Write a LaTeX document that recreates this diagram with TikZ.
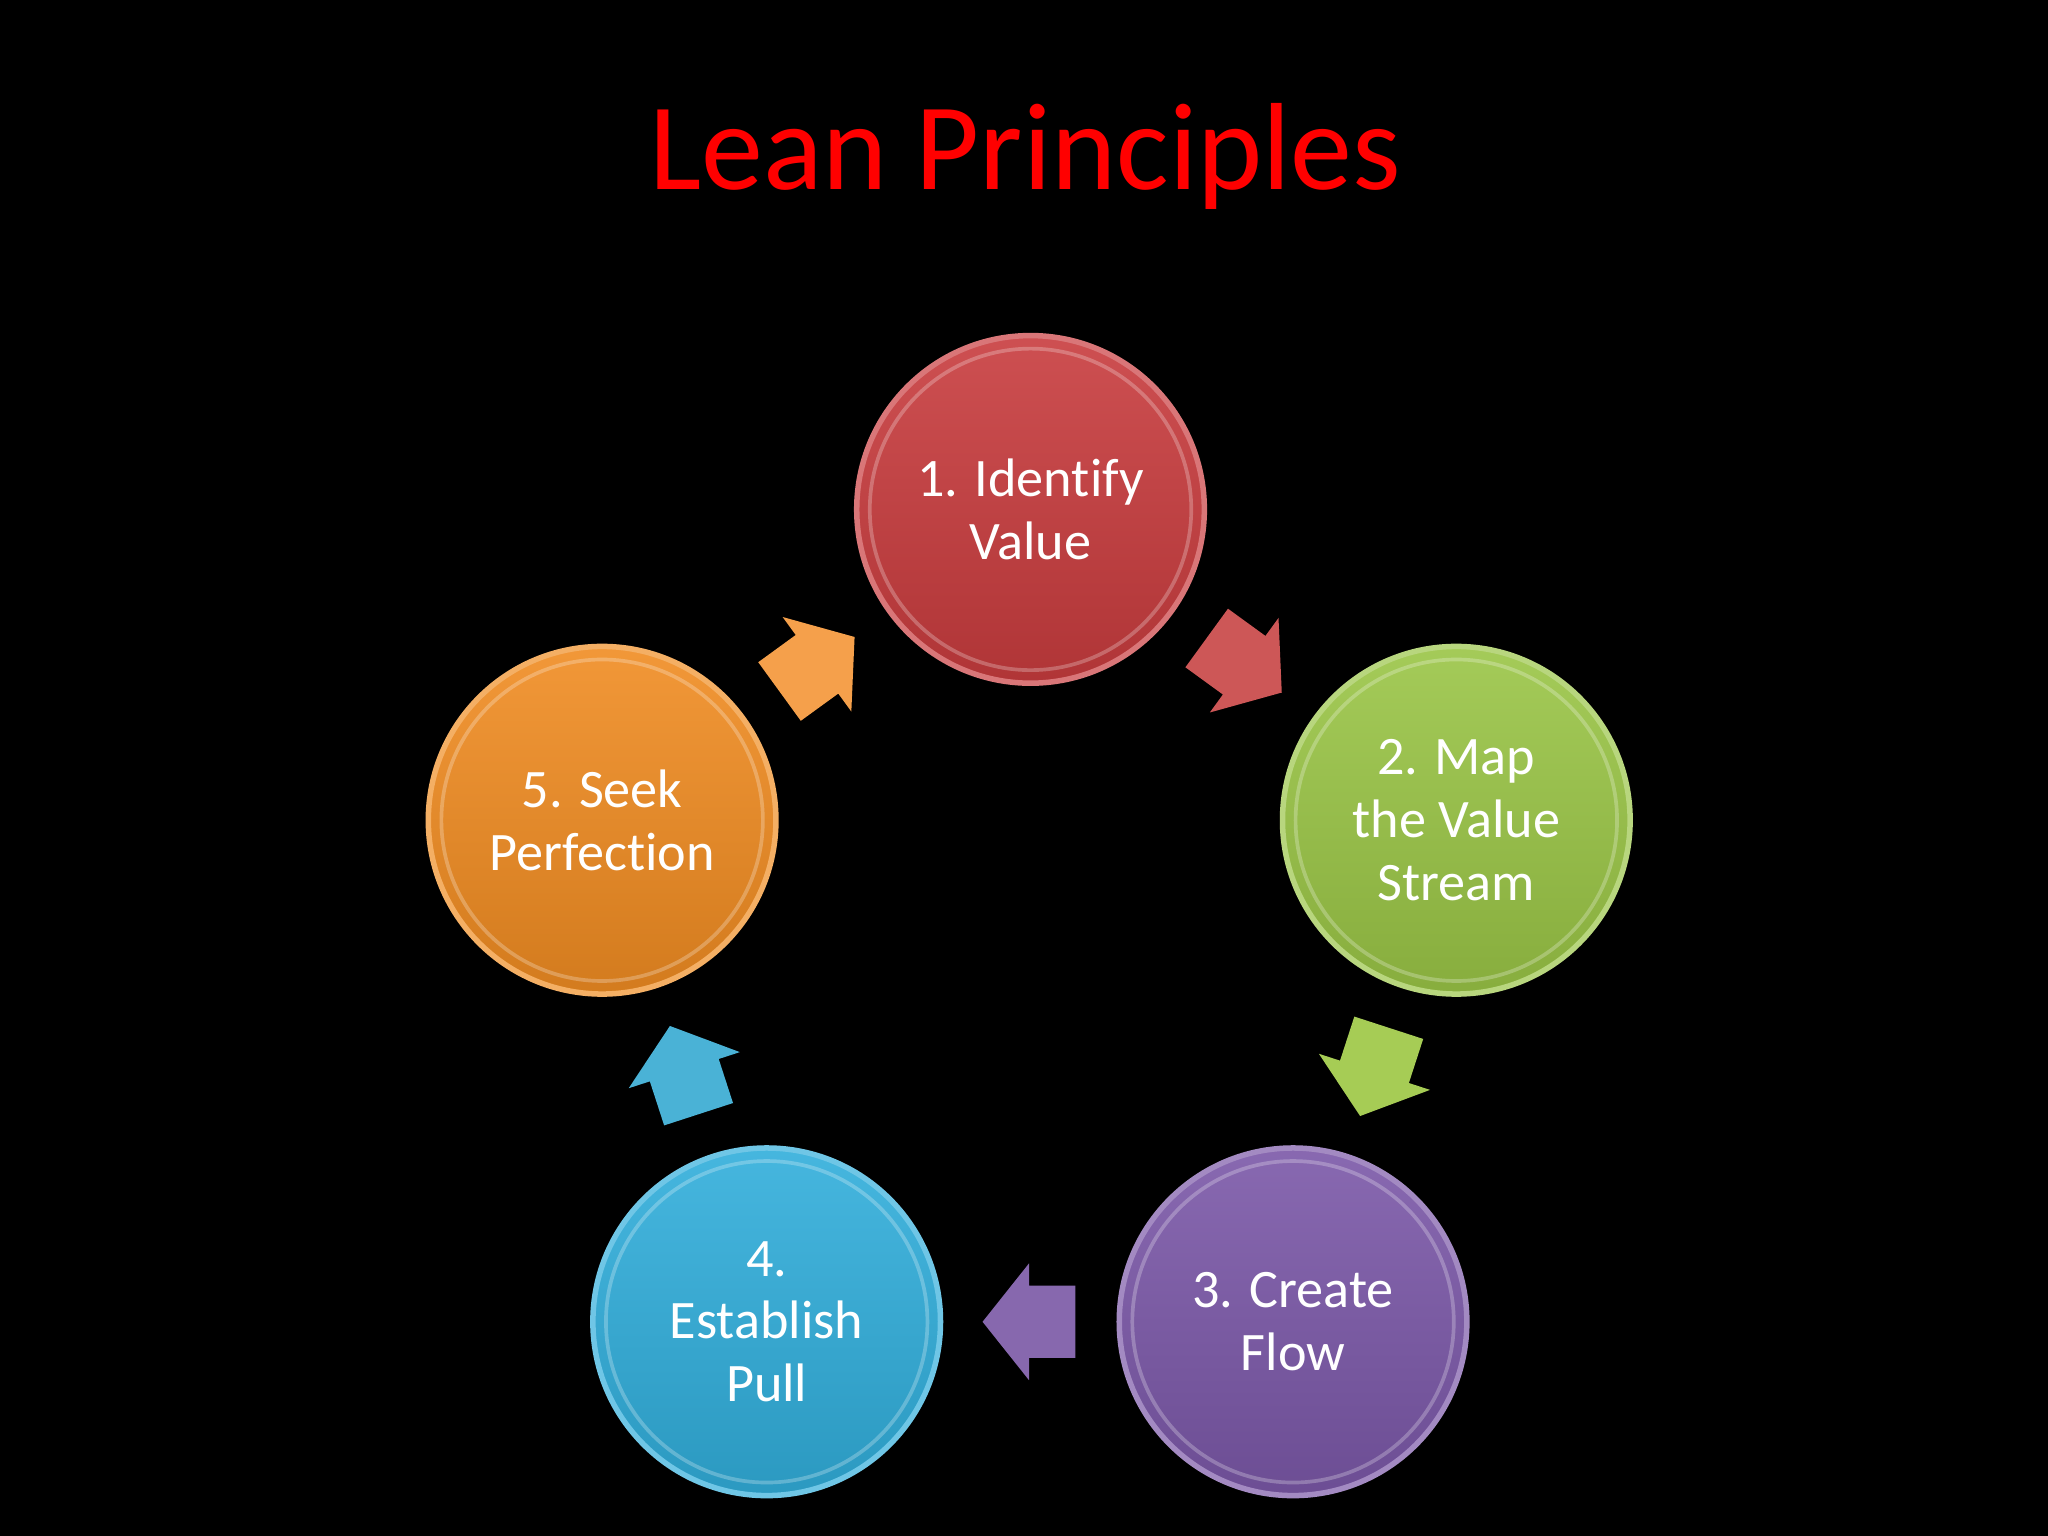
\documentclass[tikz,border=0pt]{standalone}
\usepackage{fontspec}
\setmainfont{Carlito}[Ligatures=NoCommon]
\usepackage{tikz}
\usetikzlibrary{shapes.arrows,calc}
\definecolor{leanred}{HTML}{C83C3E}
\definecolor{leangreen}{HTML}{9AC546}
\definecolor{leanpurple}{HTML}{7B58A8}
\definecolor{leanblue}{HTML}{31AEDB}
\definecolor{leanorange}{HTML}{F08C22}
\definecolor{redarrow}{HTML}{CD5757}
\definecolor{greenarrow}{HTML}{A6CC55}
\definecolor{purplearrow}{HTML}{8768AE}
\definecolor{bluearrow}{HTML}{4AB2D6}
\definecolor{orangearrow}{HTML}{F5A04B}

\begin{document}
\begin{tikzpicture}[x=0.01cm,y=-0.01cm,
  ball/.style={circle,minimum size=2.66cm,inner sep=0pt,text=white,align=center,
    font=\fontsize{11.8}{13.7}\selectfont,
    top color=#1!90!white,bottom color=#1!88!black,draw=#1!70!white,line width=1.2pt,
    path picture={\draw[white,opacity=0.25,line width=0.8pt]
      (path picture bounding box.center) circle[radius=1.23cm];}},
  turn/.style={single arrow,minimum height=0.71cm,anchor=tail,
    single arrow head extend=0.17cm,single arrow tip angle=103,inner sep=0pt,fill=#1}]
  \fill[black] (0,0) rectangle (1568,1176);
  \useasboundingbox (0,0) rectangle (1568,1176);
  \node[text=red,font=\fontsize{27}{32}\selectfont,anchor=base] (title) at (785,145) {Lean Principles};

  \node[ball=leanred]    (value)  at (789,390)  {1. Identify\\Value};
  \node[ball=leangreen]  (stream) at (1115,628) {2. Map\\the Value\\Stream};
  \node[ball=leanpurple] (flow)   at (990,1012) {3. Create\\Flow};
  \node[ball=leanblue]   (pull)   at (587,1012) {4.\\Establish\\Pull};
  \node[ball=leanorange] (seek)   at (461,628)  {5. Seek\\Perfection};

  \node[turn=redarrow,rotate=-36]    (a12) at ($($(value)!0.5!(stream)$)!-0.355cm!(stream)$) {\rule{0pt}{0.54cm}};
  \node[turn=greenarrow,rotate=-108] (a23) at ($($(stream)!0.5!(flow)$)!-0.355cm!(flow)$) {\rule{0pt}{0.54cm}};
  \node[turn=purplearrow,rotate=180] (a34) at ($($(flow)!0.5!(pull)$)!-0.355cm!(pull)$) {\rule{0pt}{0.54cm}};
  \node[turn=bluearrow,rotate=108]   (a45) at ($($(pull)!0.5!(seek)$)!-0.355cm!(seek)$) {\rule{0pt}{0.54cm}};
  \node[turn=orangearrow,rotate=36]  (a51) at ($($(seek)!0.5!(value)$)!-0.355cm!(value)$) {\rule{0pt}{0.54cm}};
\end{tikzpicture}
\end{document}
